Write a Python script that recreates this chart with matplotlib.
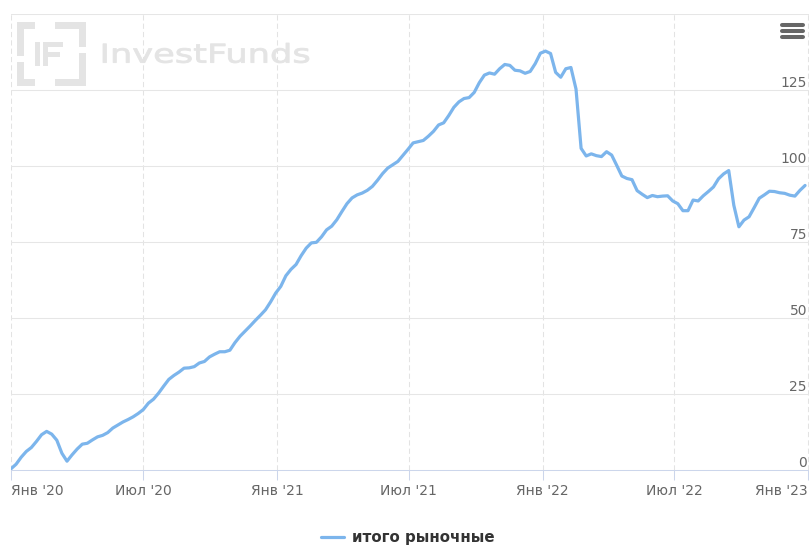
import matplotlib
matplotlib.use("Agg")
import matplotlib.pyplot as plt
import pandas as pd
from matplotlib.lines import Line2D
from matplotlib.patches import Rectangle, PathPatch
from matplotlib.textpath import TextPath
from matplotlib.font_manager import FontProperties
from matplotlib.transforms import Affine2D, blended_transform_factory, offset_copy

W, H = 809, 545

# weekly index values of the portfolio, starting 2020-01-01
values = [
    0.4, 1.9, 4.2, 6.1, 7.4, 9.4, 11.6, 12.7, 11.8, 9.8,
    5.5, 2.9, 5.0, 6.9, 8.5, 8.8, 9.9, 10.9, 11.4, 12.3,
    13.8, 14.8, 15.8, 16.6, 17.5, 18.6, 19.9, 22.0, 23.3, 25.3,
    27.6, 29.8, 31.1, 32.2, 33.5, 33.6, 34.0, 35.2, 35.7, 37.2,
    38.1, 38.9, 38.9, 39.4, 41.9, 44.0, 45.7, 47.4, 49.2, 50.9,
    52.7, 55.3, 58.2, 60.4, 63.9, 66.0, 67.6, 70.5, 73.0, 74.7,
    74.9, 76.7, 79.0, 80.2, 82.3, 85.0, 87.6, 89.5, 90.5, 91.1,
    92.0, 93.3, 95.3, 97.5, 99.3, 100.4, 101.5, 103.5, 105.5, 107.6,
    108.0, 108.4, 109.8, 111.4, 113.5, 114.2, 116.6, 119.3, 121.1, 122.2,
    122.5, 124.2, 127.4, 129.9, 130.6, 130.2, 132.0, 133.4, 133.1, 131.5,
    131.3, 130.5, 131.1, 133.7, 137.1, 137.8, 137.0, 130.8, 129.2, 132.0,
    132.4, 125.3, 105.8, 103.3, 104.0, 103.4, 103.1, 104.7, 103.6, 100.2,
    96.7, 95.9, 95.5, 91.9, 90.7, 89.6, 90.3, 89.9, 90.1, 90.2,
    88.5, 87.6, 85.3, 85.3, 88.8, 88.5, 90.2, 91.6, 93.1, 95.8,
    97.4, 98.5, 87.1, 80.0, 82.2, 83.3, 86.3, 89.4, 90.5, 91.7,
    91.6, 91.2, 91.0, 90.4, 90.1, 92.0, 93.6,
]
dates = pd.date_range("2020-01-01", periods=len(values), freq="7D")

series_name = "итого рыночные"
tick_dates = pd.to_datetime(["2020-01-01", "2020-07-01", "2021-01-01", "2021-07-01",
                             "2022-01-01", "2022-07-01", "2023-01-01"])
tick_labels = ["Янв '20", "Июл '20", "Янв '21", "Июл '21", "Янв '22", "Июл '22", "Янв '23"]
y_ticks = [0, 25, 50, 75, 100, 125]

plt.rcParams["font.family"] = ["DejaVu Sans"]

fig = plt.figure(figsize=(W / 100, H / 100), dpi=100)
fig.patch.set_facecolor("white")
ax = fig.add_axes([11 / W, (H - 470) / H, (W - 11) / W, 456 / H])
ax.patch.set_visible(False)
ax.set_axisbelow(True)

line, = ax.plot(dates, values, color="#7cb5ec", lw=2.3, solid_joinstyle="round",
                solid_capstyle="round", label=series_name, zorder=3)

ax.set_xlim(pd.Timestamp("2020-01-01"), pd.Timestamp("2023-01-01") + pd.Timedelta(days=1.4))
ax.set_ylim(0, 150)

for s in ["top", "right", "left"]:
    ax.spines[s].set_visible(False)
ax.spines["bottom"].set_color("#ccd6eb")
ax.spines["bottom"].set_linewidth(0.75)

# horizontal grid
ax.set_yticks([25, 50, 75, 100, 125, 150])
ax.yaxis.grid(True, color="#e6e6e6", lw=0.75)
ax.tick_params(axis="y", length=0, labelleft=False)

# x axis: ticks, dashed vertical grid
ax.set_xticks(tick_dates)
ax.set_xticklabels(tick_labels)
ax.xaxis.grid(True, color="#e3e3e3", lw=0.75, linestyle=(0, (5, 3)))
ax.tick_params(axis="x", colors="#ccd6eb", length=7.2, width=0.75,
               labelcolor="#666666", labelsize=10, pad=3)
xl = ax.get_xticklabels()
xl[0].set_ha("left")
xl[-1].set_ha("right")

# y labels sit inside the plot, right-aligned above each grid line
ytrans = offset_copy(blended_transform_factory(ax.transAxes, ax.transData),
                     fig=fig, x=-2, y=3, units="dots")
for v in y_ticks:
    ax.text(1, v, str(v), transform=ytrans, ha="right", va="baseline",
            color="#666666", fontsize=10)

# legend
leg = fig.legend(handles=[line], loc="center", bbox_to_anchor=(408 / W, (H - 537.5) / H),
                 frameon=False, handlelength=1.55, handletextpad=0.55,
                 prop=FontProperties(family="DejaVu Sans", weight="bold", size=10.8))
for t in leg.get_texts():
    t.set_color("#333333")

# export menu button
for yy in (24.5, 30.5, 36.8):
    fig.add_artist(Line2D([782 / W, 803 / W], [(H - yy) / H] * 2, transform=fig.transFigure,
                          color="#666666", lw=2.9, solid_capstyle="round"))

# watermark logo
wm = "#e4e4e4"


def box(x0, y0, x1, y1):
    fig.add_artist(Rectangle((x0 / W, (H - y1) / H), (x1 - x0) / W, (y1 - y0) / H,
                             transform=fig.transFigure, color=wm, lw=0, zorder=-1))


box(17, 22, 35, 29)
box(17, 22, 24, 56)
box(17, 62, 24, 86)
box(17, 79, 35, 86)
box(55, 22, 86, 29)
box(79, 22, 86, 47)
box(79, 53, 86, 86)
box(55, 79, 86, 86)
box(35, 42, 40, 66)
box(43, 42, 48, 66)
box(43, 42, 63, 47)
box(43, 52, 60, 57)

tp = TextPath((0, 0), "InvestFunds", size=27, prop=FontProperties(family="DejaVu Sans"))
ext = tp.get_extents()
sx = 206 / ext.width
sy = 20 / ext.height
tr = Affine2D().translate(-ext.x0, -ext.y0).scale(sx / W, sy / H).translate(103 / W, (H - 63) / H)
fig.add_artist(PathPatch(tp, transform=tr + fig.transFigure, facecolor=wm, edgecolor=wm,
                         lw=0.6, zorder=-1))

fig.savefig("out.png", dpi=100, facecolor="white")
plt.close(fig)
